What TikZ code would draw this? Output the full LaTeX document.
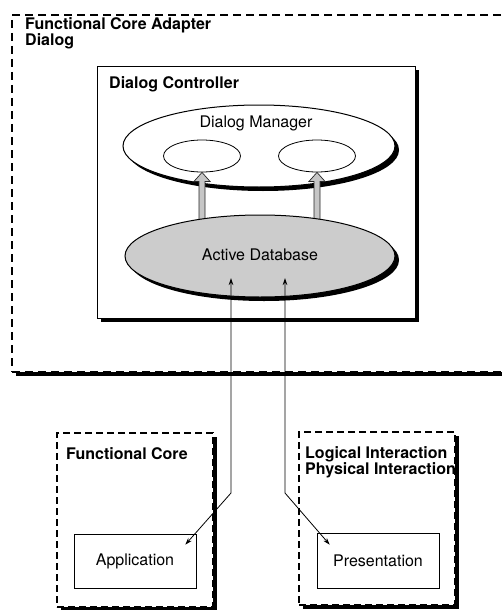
\documentclass[tikz,border=0pt]{standalone}
\usepackage{fontspec}
\setmainfont{TeX Gyre Heros}
\usetikzlibrary{shapes,arrows.meta,positioning,calc,shadows}

\begin{document}
\begin{tikzpicture}[
x=1pt, y=-1pt,
boxshadow/.style={drop shadow={shadow xshift=4pt, shadow yshift=-4pt, fill=black, opacity=1}},
dashbox/.style={draw, fill=white, line width=1.6pt, dash pattern=on 7pt off 4pt, boxshadow},
solidbox/.style={draw, fill=white, line width=0.6pt},
oval/.style={ellipse, draw, line width=0.8pt, fill=white, inner sep=0pt},
lbl/.style={inner sep=0pt, align=left, font=\fontsize{16}{16.5}\selectfont\bfseries},
txt/.style={inner sep=0pt, font=\fontsize{16}{17}\selectfont},
fatarrow/.style={draw=black!85, line width=0.7pt, fill=gray!45},
link/.style={line width=0.8pt, {Stealth[length=7pt,width=4.5pt]}-{Stealth[length=7pt,width=4.5pt]}}
]
\useasboundingbox (0,0) rectangle (501,610);

% ================= OUTER: FUNCTIONAL CORE ADAPTER / DIALOG =================
\node[dashbox, line width=2pt, dash pattern=on 8pt off 5pt,
minimum width=508pt, minimum height=357pt] (adapter) at (266,193.5) {};
\node[lbl, anchor=north west] (adapterlbl) at (25,17)
{Functional Core Adapter\\Dialog};

% ================= DIALOG CONTROLLER =================
\node[solidbox, line width=0.8pt, boxshadow,
minimum width=318pt, minimum height=252pt] (ctrl) at (256,192) {};
\node[lbl, anchor=north west] (ctrllbl) at (109,76) {Dialog Controller};

% dialog manager with its two parts
\node[oval, line width=1pt, boxshadow, minimum width=272pt, minimum height=82pt] (mgr) at (259,146) {};
\node[txt, anchor=north] (mgrlbl) at (256,116) {Dialog Manager};
\node[oval, minimum width=77pt, minimum height=32pt] (mgrL) at (202,156) {};
\node[oval, minimum width=77pt, minimum height=32pt] (mgrR) at (317,156) {};

% grey arrows up into the manager
\draw[fatarrow] (mgrL.south) -- ++(8,9) -- ++(-5,0) -- ++(0,42) -- ++(-6,0) -- ++(0,-42) -- ++(-5,0) -- cycle;
\draw[fatarrow] (mgrR.south) -- ++(8,9) -- ++(-5,0) -- ++(0,42) -- ++(-6,0) -- ++(0,-42) -- ++(-5,0) -- cycle;

% active database
\node[oval, line width=1pt, boxshadow, fill=gray!40, minimum width=270pt, minimum height=82pt] (dbase) at (260,256) {};
\node[txt] (dbaselbl) at (260,255) {Active Database};

% ================= BOTTOM LEFT: FUNCTIONAL CORE =================
\node[dashbox, minimum width=156pt, minimum height=174pt] (core) at (135,520) {};
\node[lbl, anchor=north west] (corelbl) at (66,447) {Functional Core};
\node[solidbox, minimum width=122pt, minimum height=54pt] (app) at (135,561) {};
\node[txt] (applbl) at (app.center) {Application};

% ================= BOTTOM RIGHT: INTERACTION =================
\node[dashbox, minimum width=156pt, minimum height=173pt] (inter) at (377,518.5) {};
\node[lbl, anchor=north west] (interlbl) at (305,446)
{Logical Interaction\\Physical Interaction};
\node[solidbox, minimum width=122pt, minimum height=55pt] (pres) at (378,560.5) {};
\node[txt] (preslbl) at (pres.center) {Presentation};

% ================= LINKS TO THE DATABASE =================
\coordinate (dbL) at ($(dbase.center)+(-29,22)$);
\coordinate (dbR) at ($(dbase.center)+(25,22)$);
\draw[link] (dbL) -- ++(0,215) -- ($(app.north east)+(-11,11)$);
\draw[link] (dbR) -- ++(0,215) -- ($(pres.north west)+(13,12)$);

\end{tikzpicture}
\end{document}
